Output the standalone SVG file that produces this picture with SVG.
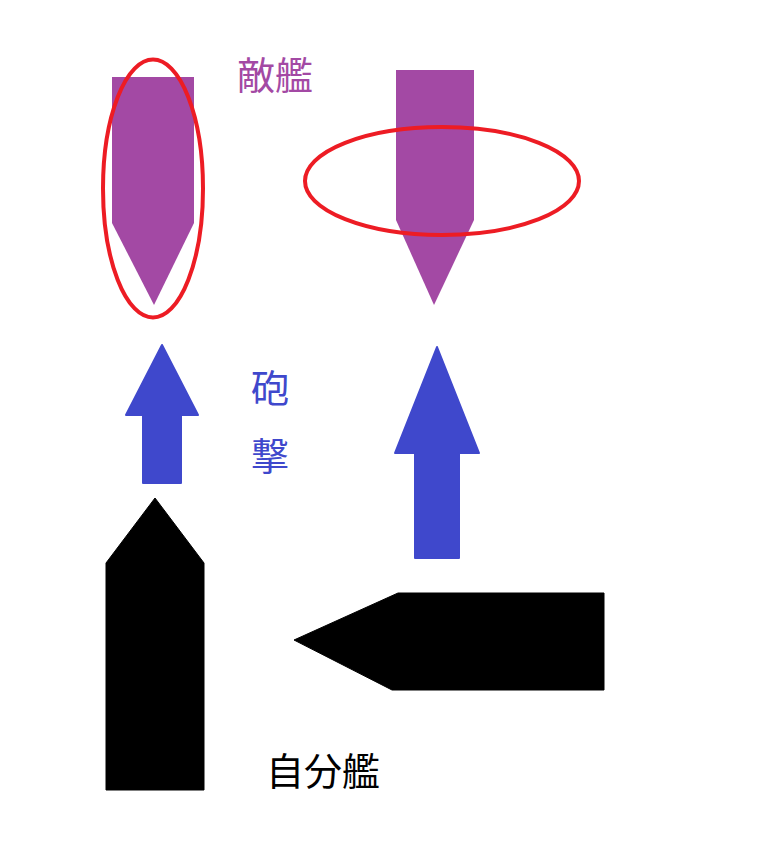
<svg xmlns="http://www.w3.org/2000/svg" width="770" height="854" viewBox="0 0 770 854">
<style>
.enemy{fill:#A349A4}
.shot{fill:#3F48CC;stroke:#3F48CC;stroke-width:2;stroke-linejoin:round}
.own{fill:#000;stroke:#000;stroke-width:1;stroke-linejoin:round}
.ring{fill:none;stroke:#ED1C24;stroke-width:4}
.t{font-family:"Noto Sans CJK JP","Noto Sans CJK SC",sans-serif;font-size:38px}
</style>
<rect width="770" height="854" fill="#fff"/>
<g id="enemy-left">
<polygon class="enemy" points="112,77 194,77 194,223 154,305 112,223"/>
</g>
<g id="enemy-right">
<polygon class="enemy" points="396,70 474,70 474,220 434,305 396,220"/>
</g>
<g id="ring-left"><ellipse class="ring" cx="153" cy="188.5" rx="50" ry="129"/></g>
<g id="ring-right"><ellipse class="ring" cx="442" cy="181" rx="137" ry="54"/></g>
<g id="label-enemy"><text class="t" x="237" y="89" fill="#A349A4">敵艦</text></g>
<g id="connectors">
<polygon class="shot" points="162,345 198,415 181,415 181,483 143,483 143,415 126,415"/>
<polygon class="shot" points="437,347 479,453 459,453 459,558 415,558 415,453 395,453"/>
</g>
<g id="label-shot">
<text class="t" x="251" y="402" fill="#3F48CC">砲</text>
<text class="t" x="251" y="470" fill="#3F48CC">撃</text>
</g>
<g id="own-left">
<polygon class="own" points="155,498 204,563 204,790 106,790 106,563"/>
</g>
<g id="own-right">
<polygon class="own" points="604,593 604,690 392,690 294,640 398,593"/>
</g>
<g id="label-own"><text class="t" x="266" y="785" fill="#000">自分艦</text></g>
</svg>
